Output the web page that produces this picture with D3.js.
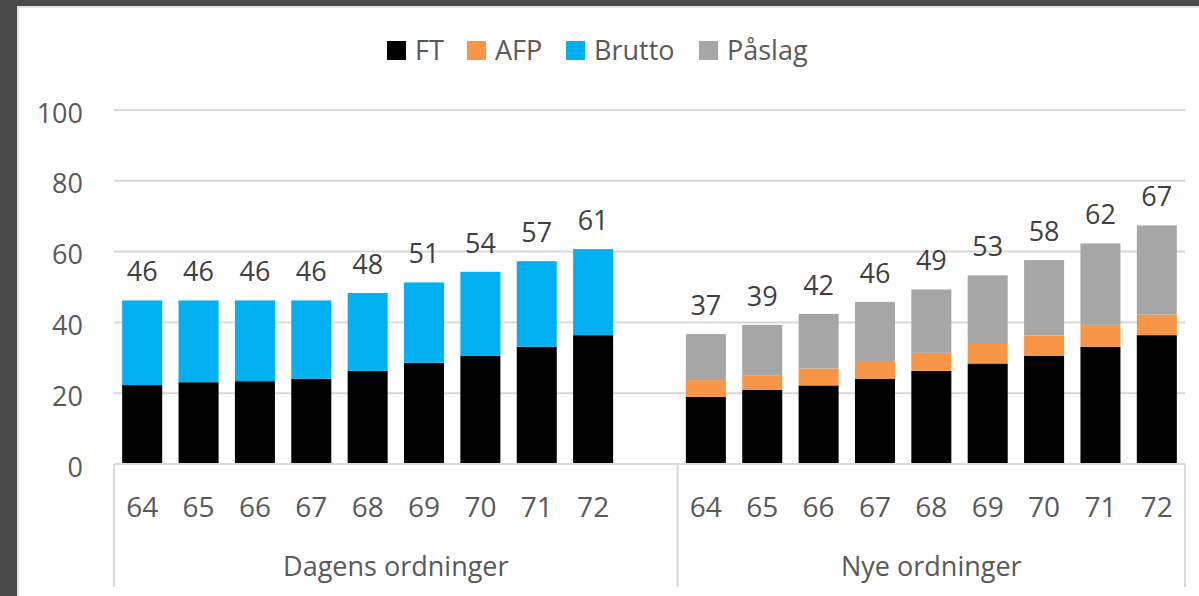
<!DOCTYPE html>
<html>
<head>
<meta charset="utf-8">
<script src="https://cdn.jsdelivr.net/npm/d3@7"></script>
<style>
  html, body { margin: 0; padding: 0; background: #4a4a4a; }
  svg { display: block; }
  text { font-family: "Open Sans", "Noto Sans", sans-serif; }
</style>
</head>
<body>
<svg id="chart" width="1199" height="596"></svg>
<script>
// ---- data ----
const ages = ["64", "65", "66", "67", "68", "69", "70", "71", "72"];
const groups = ["Dagens ordninger", "Nye ordninger"];
const seriesNames = ["FT", "AFP", "Brutto", "Påslag"];
const seriesColors = ["#000000", "#F79646", "#00B0F0", "#A6A6A6"];
const yTicks = [0, 20, 40, 60, 80, 100];

// Dagens ordninger
const dagensFT     = [22.3, 23.1, 23.4, 24.1, 26.3, 28.6, 30.6, 33.1, 36.4];
const dagensAFP    = [0, 0, 0, 0, 0, 0, 0, 0, 0];
const dagensBrutto = [23.9, 23.1, 22.8, 22.1, 22.0, 22.7, 23.7, 24.2, 24.3];
const dagensPaslag = [0, 0, 0, 0, 0, 0, 0, 0, 0];

// Nye ordninger
const nyeFT     = [19.0, 20.9, 22.2, 24.1, 26.3, 28.4, 30.6, 33.1, 36.4];
const nyeAFP    = [4.7, 4.2, 4.8, 5.0, 5.1, 5.5, 5.7, 6.2, 5.8];
const nyeBrutto = [0, 0, 0, 0, 0, 0, 0, 0, 0];
const nyePaslag = [13.0, 14.2, 15.4, 16.7, 17.9, 19.4, 21.3, 23.0, 25.2];

// ---- build table ----
const rows = [];
ages.forEach((a, i) => rows.push({ key: "D" + a, group: 0, age: a,
  FT: dagensFT[i], AFP: dagensAFP[i], Brutto: dagensBrutto[i], "Påslag": dagensPaslag[i] }));
const gapKey = "gap";
ages.forEach((a, i) => rows.push({ key: "N" + a, group: 1, age: a,
  FT: nyeFT[i], AFP: nyeAFP[i], Brutto: nyeBrutto[i], "Påslag": nyePaslag[i] }));

const domainKeys = rows.filter(r => r.group === 0).map(r => r.key)
  .concat([gapKey])
  .concat(rows.filter(r => r.group === 1).map(r => r.key));

const svg = d3.select("#chart");

// frame
svg.append("rect").attr("x", 0).attr("y", 0).attr("width", 1199).attr("height", 596).attr("fill", "#4a4a4a");
svg.append("rect").attr("x", 17).attr("y", 6).attr("width", 1182).attr("height", 590).attr("fill", "#e3e3e3");
svg.append("rect").attr("x", 19).attr("y", 8).attr("width", 1180).attr("height", 588).attr("fill", "#ffffff");

const x0 = 114, x1 = 1185;
const x = d3.scaleBand().domain(domainKeys).range([x0, x1]).paddingInner(0.29).paddingOuter(0.145);
const y = d3.scaleLinear().domain([0, 100]).range([464, 110]);

// gridlines
svg.append("g").selectAll("line").data(yTicks.filter(t => t > 0)).join("line")
  .attr("x1", x0).attr("x2", x1)
  .attr("y1", d => y(d)).attr("y2", d => y(d))
  .attr("stroke", "#d9d9d9").attr("stroke-width", 2);

// y axis labels
const yAxis = d3.axisLeft(y).tickValues(yTicks).tickSize(0).tickPadding(0);
const yg = svg.append("g").attr("transform", "translate(83,0)").call(yAxis);
yg.select(".domain").remove();
yg.selectAll("text").attr("font-size", 27).attr("fill", "#595959")
  .attr("font-family", "'Open Sans', sans-serif").attr("dy", null)
  .attr("y", 12);

// stacked bars
const stack = d3.stack().keys(seriesNames);
const stacked = stack(rows);
const color = d3.scaleOrdinal().domain(seriesNames).range(seriesColors);

svg.append("g").selectAll("g").data(stacked).join("g")
  .attr("fill", d => color(d.key))
  .selectAll("rect").data(d => d.filter(p => p[1] - p[0] > 0)).join("rect")
  .attr("x", d => x(d.data.key))
  .attr("width", x.bandwidth())
  .attr("y", d => y(d[1]))
  .attr("height", d => y(d[0]) - y(d[1]));

// total labels
svg.append("g").selectAll("text").data(rows).join("text")
  .attr("x", d => x(d.key) + x.bandwidth() / 2)
  .attr("y", d => y(d.FT + d.AFP + d.Brutto + d["Påslag"]) - 19)
  .attr("text-anchor", "middle")
  .attr("font-size", 27).attr("fill", "#404040")
  .text(d => Math.round(d.FT + d.AFP + d.Brutto + d["Påslag"]));

// x axis line
svg.append("line").attr("x1", x0).attr("x2", x1).attr("y1", y(0)).attr("y2", y(0))
  .attr("stroke", "#d9d9d9").attr("stroke-width", 2);

// group separators
const sepX = [x0, x(gapKey) - x.step() * x.paddingInner() / 2 + x.step(), x1];
svg.append("g").selectAll("line").data(sepX).join("line")
  .attr("x1", d => d).attr("x2", d => d)
  .attr("y1", y(0)).attr("y2", 587)
  .attr("stroke", "#d9d9d9").attr("stroke-width", 2);

// category labels
const xAxis = d3.axisBottom(x).tickValues(rows.map(r => r.key))
  .tickFormat(k => rows.find(r => r.key === k).age).tickSize(0).tickPadding(0);
const xg = svg.append("g").attr("transform", "translate(0,0)").call(xAxis);
xg.select(".domain").remove();
xg.selectAll("text").attr("font-size", 28).attr("fill", "#595959")
  .attr("font-family", "'Open Sans', sans-serif").attr("dy", null).attr("y", 517);

// group labels
const groupCenters = [(sepX[0] + sepX[1]) / 2, (sepX[1] + sepX[2]) / 2];
svg.append("g").selectAll("text").data(groups).join("text")
  .attr("x", (d, i) => groupCenters[i])
  .attr("y", 576)
  .attr("text-anchor", "middle")
  .attr("font-size", 27).attr("fill", "#595959")
  .text(d => d);

// legend
const legendX = [387, 467, 566, 699];
const lg = svg.append("g").selectAll("g").data(seriesNames).join("g")
  .attr("transform", (d, i) => `translate(${legendX[i]},41)`);
lg.append("rect").attr("width", 19).attr("height", 19).attr("fill", d => color(d));
lg.append("text").attr("x", 28).attr("y", 19).attr("font-size", 27).attr("fill", "#595959").text(d => d);
</script>
</body>
</html>
